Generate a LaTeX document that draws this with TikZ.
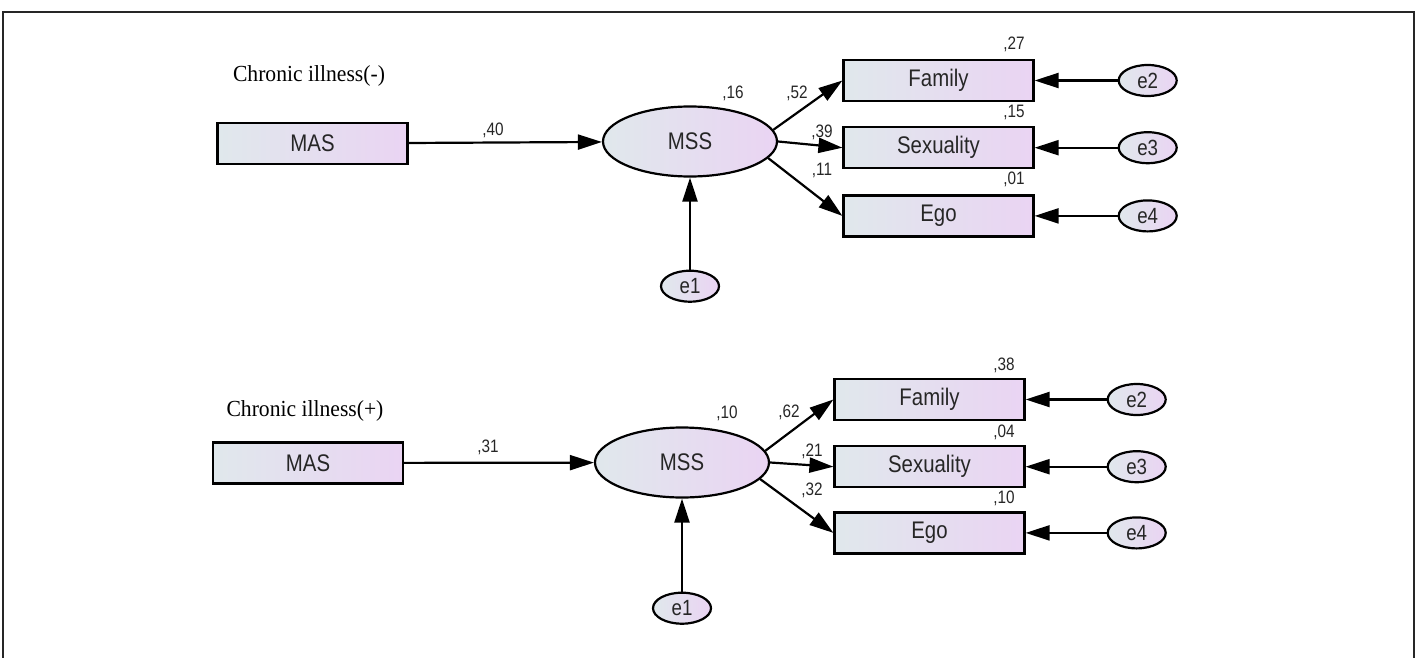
\documentclass[tikz,border=0pt]{standalone}
\usepackage{fontspec}
\newfontfamily\amosfont[FakeStretch=0.85]{Liberation Sans}
\newfontfamily\headfont[FakeStretch=0.94]{Liberation Serif}
\usetikzlibrary{arrows.meta,positioning,shapes.geometric}
\definecolor{fillleft}{RGB}{224,232,236}
\definecolor{fillright}{RGB}{234,212,243}
\tikzset{
	% standard arrow tip
	>={Triangle[length=12pt,width=7.5pt]},
	% observed variable
	box/.style={
		rectangle,
		draw=black, line width=1.1pt,
		left color=fillleft, right color=fillright,
		minimum width=95pt, minimum height=20.5pt,
		inner sep=0pt, text=black!85,
		font=\amosfont\fontsize{12}{13}\selectfont
	},
	% latent variable
	latent/.style={
		ellipse,
		draw=black, line width=1.1pt,
		left color=fillleft, right color=fillright,
		minimum width=87pt, minimum height=35pt,
		inner sep=0pt, text=black!85,
		font=\amosfont\fontsize{12}{13}\selectfont
	},
	% error term
	err/.style={
		ellipse,
		draw=black, line width=1.1pt,
		left color=fillleft, right color=fillright,
		minimum width=29pt, minimum height=15.5pt,
		inner sep=0pt, text=black!85,
		font=\amosfont\fontsize{11}{12}\selectfont
	},
	% path coefficient
	coef/.style={
		inner sep=0pt, text=black!85,
		font=\amosfont\fontsize{9}{10}\selectfont
	},
	% group heading
	heading/.style={
		inner sep=0pt,
		font=\headfont\fontsize{11.5}{12}\selectfont
	},
	% arrow style
	arrow/.style={
		->,
		line width=1.1pt
	}
}
\begin{document}
\begin{tikzpicture}[x=0.5pt, y=-0.5pt]
	\useasboundingbox (0,0) rectangle (1418,658);
	% frame
	\draw[line width=1pt, black!85] (3,658) |- (1414,12) -- (1414,658);

	% Chronic illness(-)
	\node[heading] (headA) at (309,76) {Chronic illness(-)};
	\node[box] (masA) at (312.5,143.5) {MAS};
	\node[latent] (mssA) at (690,141.5) {MSS};
	\node[box] (famA) at (938.5,80.5) {Family};
	\node[box,below=12pt of famA] (sexA) {Sexuality};
	\node[box,below=12.5pt of sexA] (egoA) {Ego};
	\node[err,below=46pt of mssA] (eA1) {e1};
	\node[err,right=41.5pt of famA] (eA2) {e2};
	\node[err,right=41.5pt of sexA] (eA3) {e3};
	\node[err,right=41.5pt of egoA] (eA4) {e4};

	\node[coef] (cA0) at (493,130) {,40};
	\node[coef] (cA1) at (733,93) {,16};
	\node[coef] (cA2) at (797,93) {,52};
	\node[coef] (cA3) at (822,132) {,39};
	\node[coef] (cA4) at (822,170) {,11};
	\node[coef] (rA2) at (1014,44) {,27};
	\node[coef] (rA3) at (1014,112) {,15};
	\node[coef] (rA4) at (1014,179) {,01};

	\draw[arrow] (masA) -- (mssA);
	\draw[arrow] (mssA.8) -- (famA.west);
	\draw[arrow] (mssA.east) -- (sexA.west);
	\draw[arrow] (mssA.-12) -- (egoA.west);
	\draw[arrow] (eA1) -- (mssA);
	\draw[arrow] (eA2) -- (famA);
	\draw[arrow] (eA3) -- (sexA);
	\draw[arrow] (eA4) -- (egoA);

	% Chronic illness(+)
	\node[heading] (headB) at (305,411) {Chronic illness(+)};
	\node[box] (masB) at (308,463) {MAS};
	\node[latent] (mssB) at (682,462.5) {MSS};
	\node[box] (famB) at (929.5,399.5) {Family};
	\node[box,below=12pt of famB] (sexB) {Sexuality};
	\node[box,below=11.5pt of sexB] (egoB) {Ego};
	\node[err,below=46.5pt of mssB] (eB1) {e1};
	\node[err,right=40.5pt of famB] (eB2) {e2};
	\node[err,right=40.5pt of sexB] (eB3) {e3};
	\node[err,right=40.5pt of egoB] (eB4) {e4};

	\node[coef] (cB0) at (488,447) {,31};
	\node[coef] (cB1) at (727,413) {,10};
	\node[coef] (cB2) at (789,412) {,62};
	\node[coef] (cB3) at (812,451) {,21};
	\node[coef] (cB4) at (812,490) {,32};
	\node[coef] (rB2) at (1004,365) {,38};
	\node[coef] (rB3) at (1004,432) {,04};
	\node[coef] (rB4) at (1004,498) {,10};

	\draw[arrow] (masB) -- (mssB);
	\draw[arrow] (mssB.8) -- (famB.west);
	\draw[arrow] (mssB.east) -- (sexB.west);
	\draw[arrow] (mssB.-12) -- (egoB.west);
	\draw[arrow] (eB1) -- (mssB);
	\draw[arrow] (eB2) -- (famB);
	\draw[arrow] (eB3) -- (sexB);
	\draw[arrow] (eB4) -- (egoB);
\end{tikzpicture}
\end{document}
